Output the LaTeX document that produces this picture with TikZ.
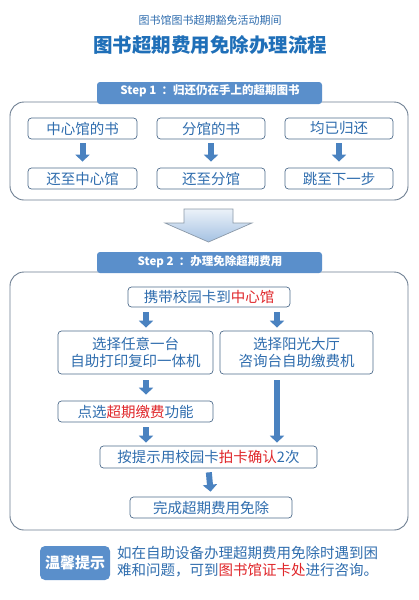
\documentclass[tikz,border=0pt]{standalone}
\usepackage{fontspec}
\setmainfont{Noto Sans CJK SC}
\newfontfamily\cjk{Noto Sans CJK SC}
\usetikzlibrary{arrows.meta,calc,shadings}
\definecolor{txtblue}{HTML}{2F6DAE}
\definecolor{ttlblue}{HTML}{1F6FB8}
\definecolor{tabblue}{HTML}{5A8FCB}
\definecolor{arrblue}{HTML}{4A82C0}
\definecolor{bordr}{HTML}{4E6C8C}
\definecolor{outbord}{HTML}{6E7F92}
\definecolor{myred}{HTML}{E0262A}
\newcommand{\fs}[1]{\fontsize{#1}{#1}\selectfont}
\newcommand{\rd}[1]{\textcolor{myred}{#1}}
\tikzset{
  x=1pt,y=-1pt,
  outerbox/.style={draw=outbord,line width=0.9pt,rounded corners=14pt},
  smallbox/.style={draw=bordr,line width=0.7pt,rounded corners=3.5pt,text=txtblue,font=\cjk\fs{14.5},inner sep=0pt,align=center},
  blk/.style={draw=arrblue,line width=6pt,-{Triangle[width=14pt,length=7pt]}},
}
\begin{document}
\begin{tikzpicture}
\useasboundingbox (0,0) rectangle (419,600);
\fill[white] (0,0) rectangle (419,600);
% titles
\node[text=txtblue,font=\cjk\fs{11}] (sub) at (210,20) {图书馆图书超期豁免活动期间};
\node[text=ttlblue,font=\cjk\bfseries\fs{19.5}] (ttl) at (210,45) {图书超期费用免除办理流程};
% step 1
\draw[outerbox] (10,102) rectangle (408,200);
\fill[tabblue,rounded corners=3pt] (97,82) rectangle (322,104);
\node[text=white,font=\cjk\bfseries\fs{11.5}] (s1) at (210,91) {Step 1 \ ：归还仍在手上的超期图书};
\node[smallbox,minimum width=109pt,minimum height=21pt] (a1) at (82.5,128.5) {中心馆的书};
\node[smallbox,minimum width=108pt,minimum height=21pt] (a2) at (211,128.5) {分馆的书};
\node[smallbox,minimum width=108pt,minimum height=21pt] (a3) at (339,128.5) {均已归还};
\node[smallbox,minimum width=109pt,minimum height=21pt] (b1) at (82.5,178.5) {还至中心馆};
\node[smallbox,minimum width=108pt,minimum height=21pt] (b2) at (211,178.5) {还至分馆};
\node[smallbox,minimum width=108pt,minimum height=21pt] (b3) at (339,178.5) {跳至下一步};
\foreach \i in {1,2,3}{\draw[blk,shorten <=4pt,shorten >=6pt] (a\i.south) -- (b\i.north);}
% big arrow
\shade[top color=white!70!tabblue!40,bottom color=tabblue!55,draw=outbord!80,line width=0.7pt]
  (184,209) -- (233,209) -- (233,223) -- (252,223) -- (208.5,242) -- (165,223) -- (184,223) -- cycle;
% step 2
\draw[outerbox] (10,272) rectangle (408,530);
\fill[tabblue,rounded corners=3pt] (97,252) rectangle (322,273);
\node[text=white,font=\cjk\bfseries\fs{11.5}] (s2) at (210,261.5) {Step 2 \ ：办理免除超期费用};
\node[smallbox,minimum width=162pt,minimum height=20pt] (c1) at (209,297) {携带校园卡到\rd{中心馆}};
\node[smallbox,minimum width=155pt,minimum height=43pt] (c2) at (135.5,352.5) {选择任意一台\\[2pt]自助打印复印一体机};
\node[smallbox,minimum width=153pt,minimum height=43pt] (c3) at (296.5,352.5) {选择阳光大厅\\[2pt]咨询台自助缴费机};
\node[smallbox,minimum width=155pt,minimum height=21pt] (c4) at (135.5,411.5) {点选\rd{超期缴费}功能};
\node[smallbox,minimum width=217pt,minimum height=22pt] (c5) at (208.5,457) {按提示用校园卡\rd{拍卡确认}2次};
\node[smallbox,minimum width=162pt,minimum height=21pt] (c6) at (211,507.5) {完成超期费用免除};
\coordinate (xl) at (146,0);
\coordinate (xr) at (277,0);
\draw[blk,shorten <=5pt,shorten >=3pt] (c1.south -| xl) -- (c2.north -| xl);
\draw[blk,shorten <=5pt,shorten >=3pt] (c1.south -| xr) -- (c3.north -| xr);
\draw[blk,shorten <=6pt,shorten >=6pt] (c2.south -| xl) -- (c4.north -| xl);
\draw[blk,shorten <=5pt,shorten >=3pt] (c4.south -| xl) -- (c5.north -| xl);
\draw[blk,shorten <=6pt,shorten >=3pt] (c3.south -| xr) -- (c5.north -| xr);
\draw[blk,shorten <=4pt,shorten >=5pt] (c5.south) -- (c6.north);
% note
\node[fill=tabblue,rounded corners=5pt,text=white,font=\cjk\bfseries\fs{15},minimum width=70pt,minimum height=34pt,inner sep=0pt] (tip) at (75,563) {温馨提示};
\node[anchor=north west,text=txtblue,font=\cjk\fs{14.5},align=left,inner sep=0pt] (note) at (117,546) {如在自助设备办理超期费用免除时遇到困\\[3pt]难和问题，可到\rd{图书馆证卡处}进行咨询。};
\end{tikzpicture}
\end{document}
